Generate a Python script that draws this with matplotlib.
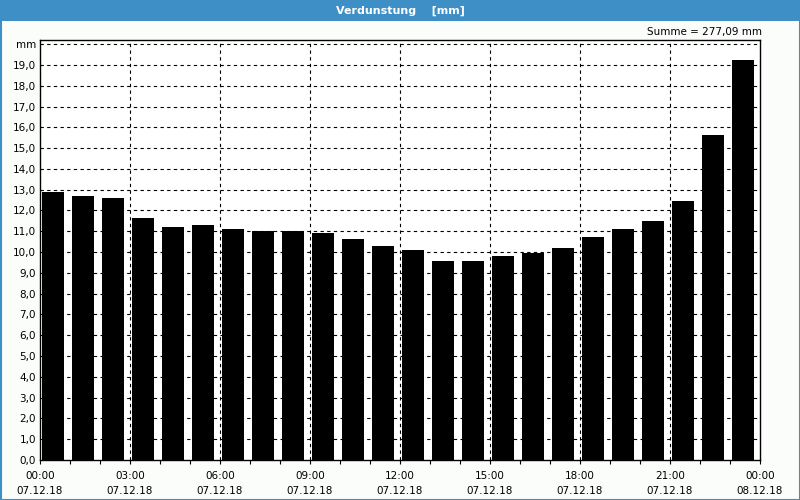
import matplotlib
matplotlib.use("Agg")
import matplotlib.pyplot as plt
from matplotlib.patches import Rectangle
from matplotlib.ticker import FixedLocator, FuncFormatter

hours = list(range(24))
values = [12.90, 12.70, 12.60, 11.64, 11.21, 11.30, 11.11, 11.01, 11.01, 10.92,
          10.63, 10.29, 10.10, 9.57, 9.57, 9.81, 9.95, 10.20, 10.72, 11.11,
          11.49, 12.46, 15.63, 19.24]
xtick_hours = [0, 3, 6, 9, 12, 15, 18, 21, 24]
xtick_labels = ["00:00\n07.12.18", "03:00\n07.12.18", "06:00\n07.12.18",
                "09:00\n07.12.18", "12:00\n07.12.18", "15:00\n07.12.18",
                "18:00\n07.12.18", "21:00\n07.12.18", "00:00\n08.12.18"]
title = "Verdunstung    [mm]"
summe = "Summe = 277,09 mm"

plt.rcParams['font.family'] = ['DejaVu Sans']
fig = plt.figure(figsize=(8, 5), dpi=100, facecolor="#fbfdfb")

# title bar and border
fig.patches.append(Rectangle((0, 1 - 21/500), 1, 21/500, transform=fig.transFigure,
                             facecolor="#3d8fc6", edgecolor="none", zorder=0))
fig.patches.append(Rectangle((0.5/800, 0.5/500), 1 - 1/800, 1 - 1/500, transform=fig.transFigure,
                             facecolor="none", edgecolor="#3d8fc6", linewidth=1.5, zorder=0))
fig.text(0.5, 1 - 10.5/500, title, color="white", fontsize=8, fontweight="bold",
         ha="center", va="center")
fig.text(762/800, 1 - 32/500, summe, color="black", fontsize=7.5, ha="right", va="center")

ax = fig.add_axes([40/800, 40/500, 720/800, 420/500])
ax.set_facecolor("white")
ax.bar([h + 0.07 for h in hours], values, width=0.73, align="edge", color="black", zorder=3)

ax.set_xlim(0, 24)
ax.set_ylim(0, 20.2)
ax.xaxis.set_major_locator(FixedLocator(xtick_hours))
ax.set_xticklabels(xtick_labels, fontsize=7.5, linespacing=1.55)
ax.xaxis.set_minor_locator(FixedLocator(hours))
ax.tick_params(axis="x", which="both", direction="out", length=3, width=0.8, pad=5)

yt = list(range(0, 21))
ax.yaxis.set_major_locator(FixedLocator(yt))
ax.yaxis.set_major_formatter(FuncFormatter(lambda v, p: "mm" if round(v) == 20 else f"{v:.1f}".replace(".", ",")))
ax.tick_params(axis="y", direction="out", length=0, pad=3, labelsize=7.5)

for y in range(1, 21):
    ax.axhline(y, color="black", linestyle=(0, (3, 3)), linewidth=0.8, zorder=1)
for x in [3, 6, 9, 12, 15, 18, 21]:
    ax.axvline(x, color="black", linestyle=(0, (3, 3)), linewidth=0.8, zorder=1)

for s in ax.spines.values():
    s.set_color("black")
    s.set_linewidth(1)

fig.savefig("out.png", dpi=100, facecolor=fig.get_facecolor())
